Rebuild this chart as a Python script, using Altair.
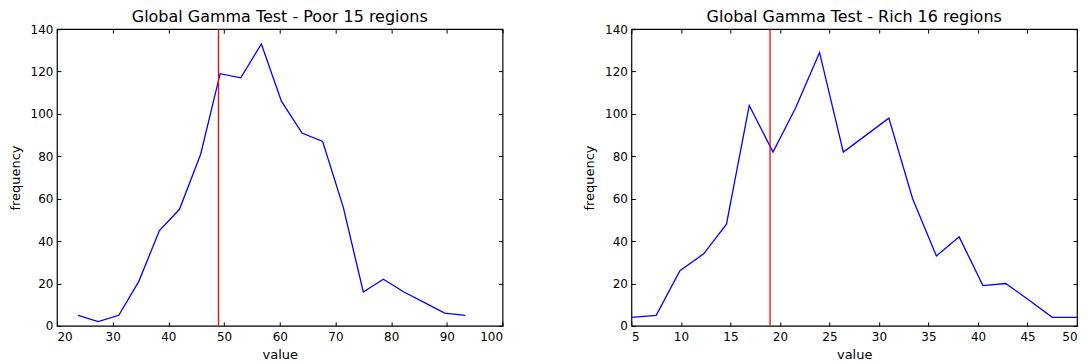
import altair as alt
import pandas as pd

# ---- data ----
poor_value = [23.8, 27.4, 31.1, 34.7, 38.4, 42.0, 45.8, 49.3, 53.0, 56.7,
              60.3, 64.0, 67.7, 71.4, 75.0, 78.6, 82.3, 86.0, 89.6, 93.3]
poor_freq = [5, 2, 5, 21, 45, 55, 81, 119, 117, 133,
             106, 91, 87, 56, 16, 22, 16, 11, 6, 5]
poor_ref = [49.0]

rich_value = [5.0, 7.5, 9.9, 12.3, 14.6, 16.9, 19.3, 21.6, 24.0, 26.4,
              28.7, 31.0, 33.4, 35.8, 38.1, 40.5, 42.8, 45.2, 47.5, 50.0]
rich_freq = [4, 5, 26, 34, 48, 104, 82, 103, 129, 82,
             90, 98, 60, 33, 42, 19, 20, 12, 4, 4]
rich_ref = [19.0]

poor_xticks = [20, 30, 40, 50, 60, 70, 80, 90, 100]
rich_xticks = [5, 10, 15, 20, 25, 30, 35, 40, 45, 50]
yticks = [0, 20, 40, 60, 80, 100, 120, 140]

titles = ["Global Gamma Test - Poor 15 regions", "Global Gamma Test - Rich 16 regions"]

FONT = "DejaVu Sans"


def axis_style(**kw):
    base = dict(tickSize=4, offset=-4, domain=False, tickColor="black", tickWidth=1,
                labelFont=FONT, labelFontSize=12, labelColor="black",
                titleFont=FONT, titleFontSize=13, titleColor="black",
                titleFontWeight="normal", grid=False)
    base.update(kw)
    return alt.Axis(**base)


def panel(values, freqs, ref, xticks, xdomain, title):
    df = pd.DataFrame({"value": values, "frequency": freqs})
    rdf = pd.DataFrame({"ref": ref})
    xs = alt.Scale(domain=xdomain, nice=False, zero=False)
    ys = alt.Scale(domain=[0, 140], nice=False, zero=True)

    main = alt.Chart(df).mark_line(color="#0000ff", strokeWidth=1.3).encode(
        x=alt.X("value:Q", scale=xs,
                axis=axis_style(orient="bottom", values=xticks, labelPadding=6,
                                title="value", titlePadding=6)),
        y=alt.Y("frequency:Q", scale=ys,
                axis=axis_style(orient="left", values=yticks, labelPadding=4,
                                title="frequency", titlePadding=8)),
    )
    ghost = alt.Chart(df).mark_line(strokeOpacity=0).encode(
        x=alt.X("value:Q", scale=xs,
                axis=axis_style(orient="top", values=xticks, labels=False, title=None)),
        y=alt.Y("frequency:Q", scale=ys,
                axis=axis_style(orient="right", values=yticks, labels=False, title=None)),
    )
    rule = alt.Chart(rdf).mark_rule(color="#ff0000", strokeWidth=1.3).encode(
        x=alt.X("ref:Q", scale=xs, axis=None)
    )
    return alt.layer(main, ghost, rule).resolve_axis(
        x="independent", y="independent"
    ).properties(
        width=446, height=297,
        title=alt.TitleParams(title, font=FONT, fontSize=16, fontWeight="normal",
                              color="black", offset=-2),
    )


left = panel(poor_value, poor_freq, poor_ref, poor_xticks, [20, 100], titles[0])
right = panel(rich_value, rich_freq, rich_ref, rich_xticks, [5, 50], titles[1])

chart = alt.hconcat(left, right, spacing=78).properties(
    padding={"left": 0, "top": 0, "right": 0, "bottom": 0}
).configure(font=FONT).configure_view(stroke="#000000", strokeWidth=1.2)

chart.save("out.html", embed_options={"renderer": "svg", "actions": False})
